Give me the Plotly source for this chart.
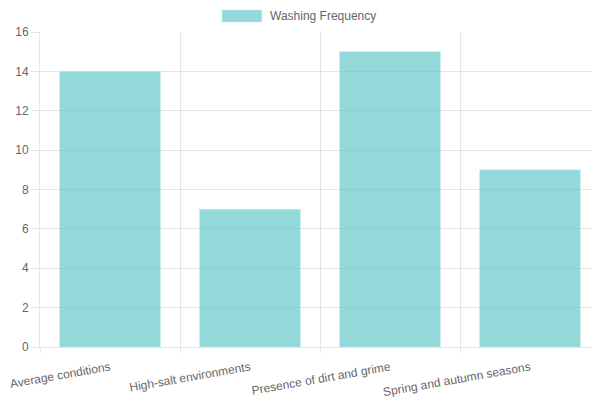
import plotly.graph_objects as go

categories = ["Average conditions", "High-salt environments",
              "Presence of dirt and grime", "Spring and autumn seasons"]
washing_frequency = [14, 7, 15, 9]
y_ticks = [0, 2, 4, 6, 8, 10, 12, 14, 16]
series_name = "Washing Frequency"

grid = "rgba(0,0,0,0.1)"
bar_fill = "rgba(75,192,192,0.6)"

fig = go.Figure()
fig.add_trace(go.Bar(
    x=categories,
    y=washing_frequency,
    name=series_name,
    marker=dict(color=bar_fill,
                line=dict(color="rgba(200,235,235,0.6)", width=1)),
    width=0.72,
    showlegend=False,
))

# chart.js style legend: wide swatch + label above the plot
fig.add_shape(type="rect", xref="paper", yref="paper",
              x0=0.325, x1=0.396, y0=1.0317, y1=1.0698,
              fillcolor=bar_fill, line=dict(color="rgba(200,235,235,0.6)", width=1))
fig.add_annotation(text=series_name, xref="paper", yref="paper",
                   x=0.407, y=1.0508, xanchor="left", yanchor="middle",
                   showarrow=False, font=dict(size=12, color="#666"))

# page body has an 8px margin, so shrink the figure to fit the window
fig.update_layout(
    width=592, height=392,
    margin=dict(l=32, r=0, t=24, b=53),
    paper_bgcolor="white",
    plot_bgcolor="white",
    font=dict(family="Liberation Sans, Arial, sans-serif", size=12, color="#666"),
    xaxis=dict(
        type="category",
        tickson="boundaries",
        showgrid=True, gridcolor=grid, gridwidth=1,
        ticks="outside", ticklen=5, tickcolor=grid,
        showline=True, linecolor=grid,
        tickangle=-10,
        ticklabelstandoff=8,
        automargin=False,
    ),
    yaxis=dict(
        range=[0, 16],
        tickvals=y_ticks,
        showgrid=True, gridcolor=grid, gridwidth=1,
        ticks="outside", ticklen=8, tickcolor=grid,
        showline=True, linecolor=grid,
        zeroline=False,
        automargin=False,
    ),
)

fig.write_html("out.html")
